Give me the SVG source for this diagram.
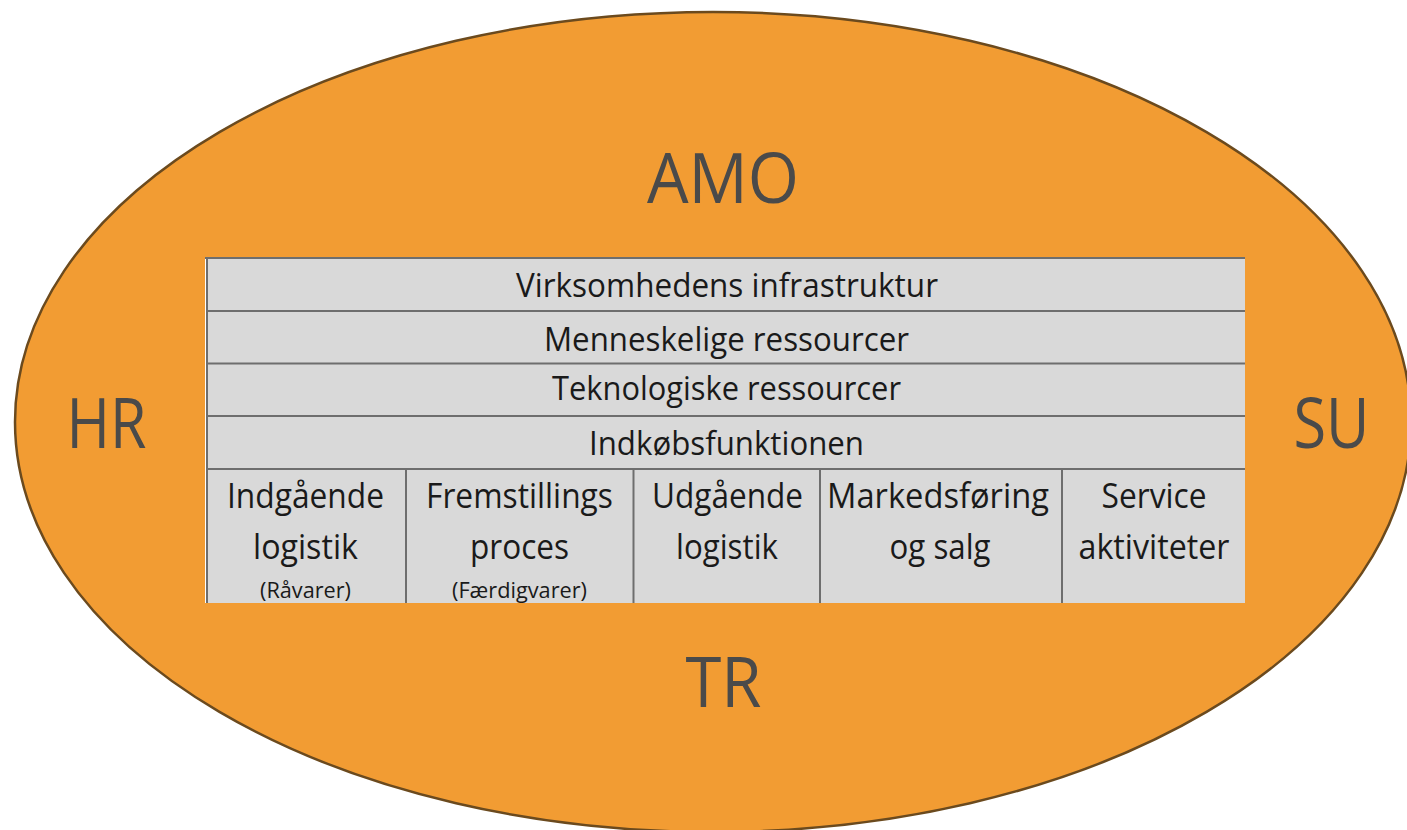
<svg xmlns="http://www.w3.org/2000/svg" width="1407" height="830" viewBox="0 0 1407 830">
<style>
.lbl{font-family:"Open Sans","Noto Sans",sans-serif;font-size:69px;fill:#4a4a4a;text-anchor:middle}
.t{font-family:"Open Sans","Noto Sans",sans-serif;font-size:32px;fill:#1a1a1a;text-anchor:middle}
.b{font-family:"Open Sans","Noto Sans",sans-serif;font-size:35px;fill:#1a1a1a;text-anchor:middle}
.s{font-family:"Open Sans","Noto Sans",sans-serif;font-size:21px;fill:#1a1a1a;text-anchor:middle}
.cell{fill:#d9d9d9}
.ln{stroke:#6e6e6e;stroke-width:2;fill:none}
</style>
<rect width="1407" height="830" fill="#ffffff"/>
<g id="outer">
<ellipse cx="713" cy="422" rx="698" ry="410" fill="#f29c33" stroke="#6b4a1e" stroke-width="2.5"/>
<text class="lbl" x="723" y="203" textLength="152" lengthAdjust="spacingAndGlyphs">AMO</text>
<text class="lbl" x="106.5" y="448" textLength="80" lengthAdjust="spacingAndGlyphs">HR</text>
<text class="lbl" x="1331.5" y="448" textLength="76" lengthAdjust="spacingAndGlyphs">SU</text>
<text class="lbl" x="723.5" y="707" textLength="76" lengthAdjust="spacingAndGlyphs">TR</text>
</g>
<g id="table">
<rect class="cell" x="205" y="257" width="1040" height="346"/>
<line x1="205.5" y1="257" x2="205.5" y2="603" stroke="#ffffff" stroke-width="1"/>
<line x1="207" y1="258" x2="207" y2="603" class="ln"/>
<line x1="205" y1="258" x2="1245" y2="258" class="ln"/>
<line x1="206" y1="311" x2="1245" y2="311" class="ln"/>
<line x1="206" y1="363.5" x2="1245" y2="363.5" class="ln"/>
<line x1="206" y1="416" x2="1245" y2="416" class="ln"/>
<line x1="206" y1="469" x2="1245" y2="469" class="ln"/>
<line x1="406" y1="469" x2="406" y2="603" class="ln"/>
<line x1="633.5" y1="469" x2="633.5" y2="603" class="ln"/>
<line x1="820" y1="469" x2="820" y2="603" class="ln"/>
<line x1="1062" y1="469" x2="1062" y2="603" class="ln"/>
</g>
<g id="row-infrastruktur"><text class="t" x="727" y="297" textLength="422" lengthAdjust="spacingAndGlyphs">Virksomhedens infrastruktur</text></g>
<g id="row-menneskelige"><text class="t" x="726.5" y="351" textLength="365" lengthAdjust="spacingAndGlyphs">Menneskelige ressourcer</text></g>
<g id="row-teknologiske"><text class="t" x="726.5" y="400" textLength="349" lengthAdjust="spacingAndGlyphs">Teknologiske ressourcer</text></g>
<g id="row-indkob"><text class="t" x="726.5" y="455" textLength="275" lengthAdjust="spacingAndGlyphs">Indkøbsfunktionen</text></g>
<g id="col-indgaaende">
<text class="b" x="305.5" y="508" textLength="157" lengthAdjust="spacingAndGlyphs">Indgående</text>
<text class="b" x="305.5" y="559" textLength="105" lengthAdjust="spacingAndGlyphs">logistik</text>
<text class="s" x="305.5" y="598" textLength="91" lengthAdjust="spacingAndGlyphs">(Råvarer)</text>
</g>
<g id="col-fremstilling">
<text class="b" x="519.5" y="508" textLength="187" lengthAdjust="spacingAndGlyphs">Fremstillings</text>
<text class="b" x="519.5" y="559" textLength="99" lengthAdjust="spacingAndGlyphs">proces</text>
<text class="s" x="519.5" y="598" textLength="135" lengthAdjust="spacingAndGlyphs">(Færdigvarer)</text>
</g>
<g id="col-udgaaende">
<text class="b" x="727.5" y="508" textLength="151" lengthAdjust="spacingAndGlyphs">Udgående</text>
<text class="b" x="727" y="559" textLength="102" lengthAdjust="spacingAndGlyphs">logistik</text>
</g>
<g id="col-marked">
<text class="b" x="938" y="508" textLength="222" lengthAdjust="spacingAndGlyphs">Markedsføring</text>
<text class="b" x="940" y="559" textLength="101" lengthAdjust="spacingAndGlyphs">og salg</text>
</g>
<g id="col-service">
<text class="b" x="1154" y="508" textLength="105" lengthAdjust="spacingAndGlyphs">Service</text>
<text class="b" x="1154" y="559" textLength="151" lengthAdjust="spacingAndGlyphs">aktiviteter</text>
</g>
</svg>
